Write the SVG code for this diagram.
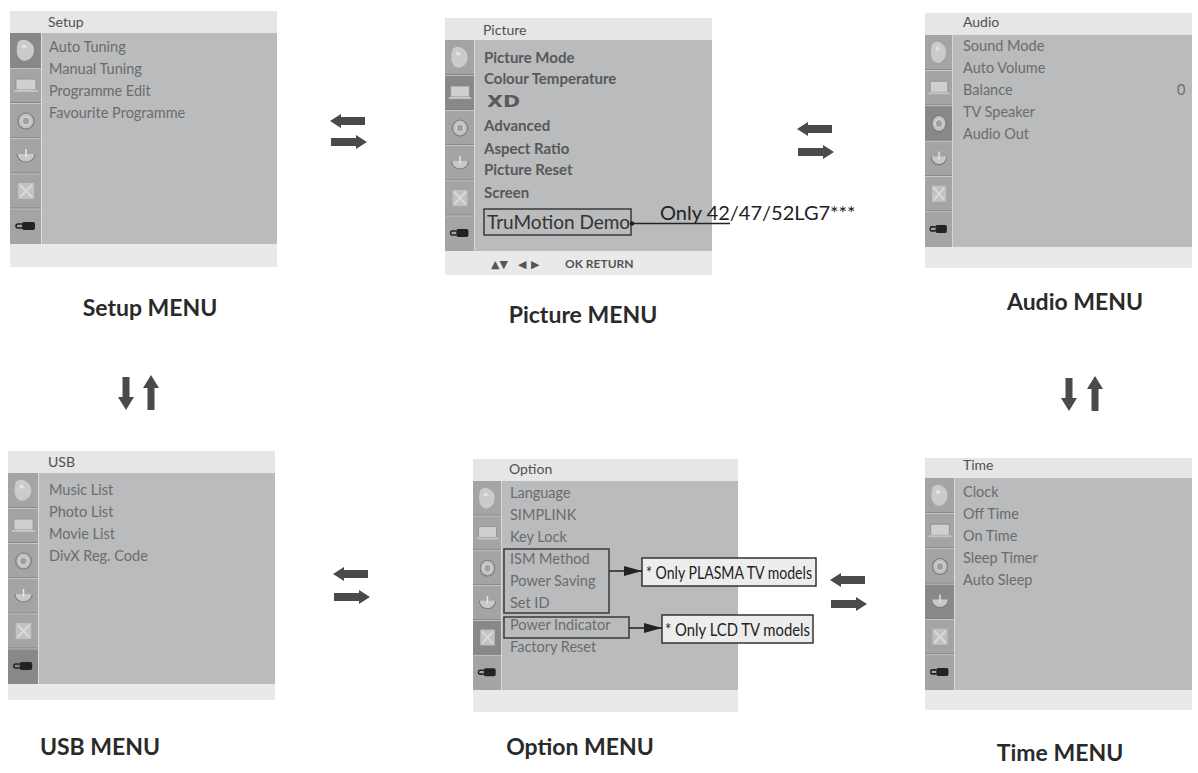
<svg xmlns="http://www.w3.org/2000/svg" xmlns:xlink="http://www.w3.org/1999/xlink" width="1198" height="773" viewBox="0 0 1198 773">
<style>
.hdr{font-family:Lato,'Liberation Sans',sans-serif;font-size:14px;fill:#505050}
.it{font-family:Lato,'Liberation Sans',sans-serif;font-size:14.5px;fill:#6c6c6c}
.itb{font-family:Lato,'Liberation Sans',sans-serif;font-size:15px;font-weight:700;fill:#585858}
.lbl{font-family:Lato,'Liberation Sans',sans-serif;font-size:23px;font-weight:700;fill:#2a2a2a;text-anchor:middle}
.note{font-family:Lato,'Liberation Sans',sans-serif;font-size:17px;fill:#222}
.hbar{fill:#e6e6e6}
.body{fill:#b9bbbc}
.bbar{fill:#e9e9e9}
.sb{fill:#a3a4a5}
.hl{fill:#878889}
.arw{fill:#4a4a4a}
.frame{fill:none;stroke:#3a3a3a;stroke-width:1.5}
.tri{font-family:'DejaVu Sans',sans-serif;font-size:11px;fill:#555}
</style>
<defs>
<symbol id="side" viewBox="0 0 32 211" preserveAspectRatio="none">
<g stroke="#d2d2d2" stroke-width="1">
<line x1="0" y1="35.2" x2="32" y2="35.2"/><line x1="0" y1="70.3" x2="32" y2="70.3"/><line x1="0" y1="105.5" x2="32" y2="105.5"/><line x1="0" y1="140.7" x2="32" y2="140.7"/><line x1="0" y1="175.8" x2="32" y2="175.8"/>
</g>
<g stroke="#7c7c7c" stroke-width="0.8">
<line x1="0" y1="34.4" x2="32" y2="34.4"/><line x1="0" y1="69.5" x2="32" y2="69.5"/><line x1="0" y1="104.7" x2="32" y2="104.7"/><line x1="0" y1="139.9" x2="32" y2="139.9"/><line x1="0" y1="175" x2="32" y2="175"/>
</g>
<line x1="31.5" y1="0" x2="31.5" y2="211" stroke="#dedede" stroke-width="1"/>
<path d="M8,9 q5,-4 10,-1 q6,3 6,9 q0,7 -6,10 q-6,2 -9,-2 q-4,-5 -1,-16z" fill="#cbcbcb"/>
<path d="M12,12 q3,-1 5,2 q-2,3 -5,1z" fill="#e2e2e2"/>
<rect x="6" y="46" width="20" height="11" rx="1" fill="#cfcfcf" stroke="#8a8a8a" stroke-width="0.8"/>
<rect x="4" y="57" width="24" height="2" fill="#c4c4c4"/>
<circle cx="16" cy="88" r="8" fill="#c2c2c2" stroke="#7a7a7a" stroke-width="1.2"/>
<circle cx="16" cy="88" r="4" fill="#a0a0a0" stroke="#dcdcdc" stroke-width="1"/>
<path d="M7,121 a9,8 0 0 0 18,0" fill="#c8c8c8" stroke="#7a7a7a" stroke-width="1.2"/>
<line x1="16" y1="116" x2="16" y2="124" stroke="#e8e8e8" stroke-width="1.5"/>
<rect x="8" y="150" width="16" height="16" fill="#c2c2c2"/>
<path d="M10,152 l12,12 M22,152 l-12,12" stroke="#dadada" stroke-width="2"/>
<rect x="12" y="189" width="13" height="8" rx="2" fill="#222"/>
<path d="M12,191 h-4 a2,2 0 0 0 0,4 h4" fill="none" stroke="#222" stroke-width="1.6"/>
</symbol>
<marker id="head" viewBox="0 0 18 10" refX="18" refY="5" markerWidth="18" markerHeight="10" markerUnits="userSpaceOnUse" orient="auto">
<path d="M0,0 L18,5 L0,10 z" fill="#222"/>
</marker>
</defs>

<g id="setup-menu">
<rect class="hbar" x="10" y="11" width="267" height="22"/>
<rect class="body" x="10" y="33" width="267" height="211"/>
<rect class="bbar" x="10" y="244" width="267" height="23"/>
<rect class="sb" x="10" y="33" width="32" height="211"/>
<rect class="hl" x="10" y="33" width="32" height="35.2"/>
<use xlink:href="#side" x="10" y="33" width="32" height="211"/>
<text class="hdr" x="48" y="27">Setup</text>
<text class="it" x="49" y="52">Auto Tuning</text>
<text class="it" x="49" y="74">Manual Tuning</text>
<text class="it" x="49" y="96">Programme Edit</text>
<text class="it" x="49" y="118">Favourite Programme</text>
<text class="lbl" x="150" y="316">Setup MENU</text>
</g>

<g id="picture-menu">
<rect class="hbar" x="445" y="18" width="267" height="22"/>
<rect class="body" x="445" y="40" width="267" height="211"/>
<rect class="bbar" x="445" y="251" width="267" height="24"/>
<rect class="sb" x="445" y="40" width="30" height="211"/>
<rect class="hl" x="445" y="75.2" width="30" height="35.2"/>
<use xlink:href="#side" x="445" y="40" width="30" height="211"/>
<text class="hdr" x="483" y="35">Picture</text>
<text class="itb" x="484" y="63">Picture Mode</text>
<text class="itb" x="484" y="84">Colour Temperature</text>
<text x="487" y="107" font-family="'DejaVu Sans',sans-serif" font-size="15" font-weight="700" fill="#5a5a5a" textLength="33" lengthAdjust="spacingAndGlyphs">XD</text>
<text class="itb" x="484" y="131">Advanced</text>
<text class="itb" x="484" y="154">Aspect Ratio</text>
<text class="itb" x="484" y="175">Picture Reset</text>
<text class="itb" x="484" y="198">Screen</text>
<text x="487" y="229" font-family="Lato,'Liberation Sans',sans-serif" font-size="19" fill="#333">TruMotion Demo</text>
<rect class="frame" x="484" y="209" width="147" height="26" stroke-width="1.2"/>
<text class="tri" x="491" y="268">▲▼</text>
<text class="tri" x="518" y="268">◀</text>
<text class="tri" x="531" y="268">▶</text>
<text x="565" y="268" font-family="Lato,'Liberation Sans',sans-serif" font-size="12" font-weight="700" fill="#555">OK RETURN</text>
<text class="lbl" x="583" y="323">Picture MENU</text>
</g>

<g id="audio-menu">
<rect class="hbar" x="925" y="13" width="267" height="22"/>
<rect class="body" x="925" y="35" width="267" height="212"/>
<rect class="bbar" x="925" y="247" width="267" height="21"/>
<rect class="sb" x="925" y="35" width="28" height="212"/>
<rect class="hl" x="925" y="105.7" width="28" height="35.3"/>
<use xlink:href="#side" x="925" y="35" width="28" height="212"/>
<text class="hdr" x="963" y="27">Audio</text>
<text class="it" x="963" y="51">Sound Mode</text>
<text class="it" x="963" y="73">Auto Volume</text>
<text class="it" x="963" y="95">Balance</text>
<text class="it" x="1177" y="95">0</text>
<text class="it" x="963" y="117">TV Speaker</text>
<text class="it" x="963" y="139">Audio Out</text>
<text class="lbl" x="1075" y="310">Audio MENU</text>
</g>

<g id="usb-menu">
<rect class="hbar" x="8" y="451" width="267" height="22"/>
<rect class="body" x="8" y="473" width="267" height="211"/>
<rect class="bbar" x="8" y="684" width="267" height="16"/>
<rect class="sb" x="8" y="473" width="31" height="211"/>
<rect class="hl" x="8" y="648.8" width="31" height="35.2"/>
<use xlink:href="#side" x="8" y="473" width="31" height="211"/>
<text class="hdr" x="48" y="467">USB</text>
<text class="it" x="49" y="495">Music List</text>
<text class="it" x="49" y="517">Photo List</text>
<text class="it" x="49" y="539">Movie List</text>
<text class="it" x="49" y="561">DivX Reg.  Code</text>
<text class="lbl" x="100" y="755">USB MENU</text>
</g>

<g id="option-menu">
<rect class="hbar" x="473" y="459" width="265" height="22"/>
<rect class="body" x="473" y="481" width="265" height="209"/>
<rect class="bbar" x="473" y="690" width="265" height="22"/>
<rect class="sb" x="473" y="481" width="29" height="209"/>
<rect class="hl" x="473" y="620.3" width="29" height="34.9"/>
<use xlink:href="#side" x="473" y="481" width="29" height="209"/>
<text class="hdr" x="509" y="474">Option</text>
<text class="it" x="510" y="498">Language</text>
<text class="it" x="510" y="520">SIMPLINK</text>
<text class="it" x="510" y="542">Key Lock</text>
<text class="it" x="510" y="564">ISM Method</text>
<text class="it" x="510" y="586">Power Saving</text>
<text class="it" x="510" y="608">Set ID</text>
<text class="it" x="510" y="630">Power Indicator</text>
<text class="it" x="510" y="652">Factory Reset</text>
<rect class="frame" x="504" y="549" width="105" height="64"/>
<rect class="frame" x="504" y="617" width="125" height="21"/>
<rect x="642" y="558" width="174" height="28" fill="#ededed" stroke="#333" stroke-width="1.5"/>
<text class="note" x="646" y="579" textLength="166" lengthAdjust="spacingAndGlyphs">* Only PLASMA TV models</text>
<rect x="662" y="615" width="151" height="28" fill="#ededed" stroke="#333" stroke-width="1.5"/>
<text class="note" x="665" y="636" textLength="145" lengthAdjust="spacingAndGlyphs">* Only LCD TV models</text>
<text class="lbl" x="580" y="755">Option MENU</text>
</g>

<g id="time-menu">
<rect class="hbar" x="925" y="458" width="267" height="20"/>
<rect class="body" x="925" y="478" width="267" height="212"/>
<rect class="bbar" x="925" y="690" width="267" height="20"/>
<rect class="sb" x="925" y="478" width="30" height="212"/>
<rect class="hl" x="925" y="584" width="30" height="35.3"/>
<use xlink:href="#side" x="925" y="478" width="30" height="212"/>
<text class="hdr" x="963" y="470">Time</text>
<text class="it" x="963" y="497">Clock</text>
<text class="it" x="963" y="519">Off Time</text>
<text class="it" x="963" y="541">On Time</text>
<text class="it" x="963" y="563">Sleep Timer</text>
<text class="it" x="963" y="585">Auto Sleep</text>
<text class="lbl" x="1060" y="761">Time MENU</text>
</g>

<g id="callouts">
<line x1="632" y1="223.5" x2="730" y2="223.5" stroke="#222" stroke-width="1.3"/>
<circle cx="632" cy="223.5" r="2.2" fill="#222"/>
<text x="660" y="220" font-family="Lato,'Liberation Sans',sans-serif" font-size="20" fill="#222">Only 42/47/52LG7***</text>
<line x1="609" y1="571" x2="642" y2="571" stroke="#222" stroke-width="1.5" marker-end="url(#head)"/>
<line x1="629" y1="628" x2="662" y2="628" stroke="#222" stroke-width="1.5" marker-end="url(#head)"/>
</g>

<g id="connectors">
<polygon class="arw" points="330,121 341,114 341,117 365,117 365,125 341,125 341,128"/>
<polygon class="arw" points="367,142 356,135 356,138 331,138 331,146 356,146 356,149"/>
<polygon class="arw" points="797,129 808,122 808,125 832,125 832,133 808,133 808,136"/>
<polygon class="arw" points="834,152 823,145 823,148 798,148 798,156 823,156 823,159"/>
<polygon class="arw" points="333,574 344,567 344,570 368,570 368,578 344,578 344,581"/>
<polygon class="arw" points="370,597 359,590 359,593 334,593 334,601 359,601 359,604"/>
<polygon class="arw" points="830,580 841,573 841,576 865,576 865,584 841,584 841,587"/>
<polygon class="arw" points="867,604 856,597 856,600 831,600 831,608 856,608 856,611"/>
<polygon class="arw" points="126,410 118,397 122.5,397 122.5,377 129.5,377 129.5,397 134,397"/>
<polygon class="arw" points="151,375 143,388 147.5,388 147.5,410 154.5,410 154.5,388 159,388"/>
<polygon class="arw" points="1069,411 1061,398 1065.5,398 1065.5,378 1072.5,378 1072.5,398 1077,398"/>
<polygon class="arw" points="1095,376 1087,389 1091.5,389 1091.5,411 1098.5,411 1098.5,389 1103,389"/>
</g>
</svg>
